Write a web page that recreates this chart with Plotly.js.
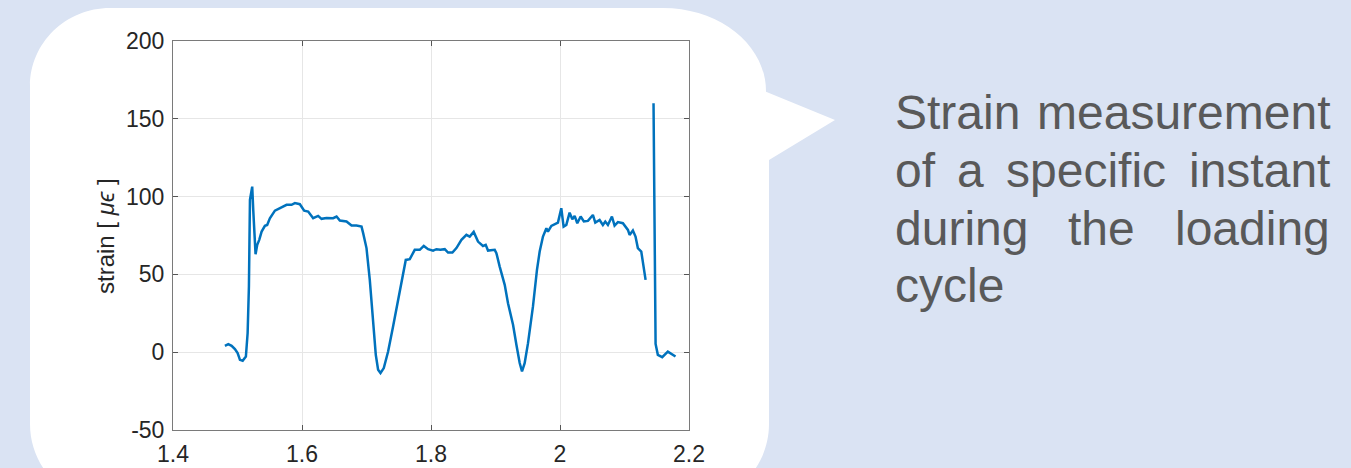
<!DOCTYPE html>
<html>
<head>
<meta charset="utf-8">
<script src="https://cdn.plot.ly/plotly-3.0.1.min.js"></script>
<style>
html,body{margin:0;padding:0;background:#dae3f3;}
#chart{width:1351px;height:468px;}
</style>
</head>
<body>
<div id="chart"></div>
<script>
// ---- data (time in s, strain in microstrain) ----
var time = [
 1.4805, 1.4857, 1.4909, 1.496, 1.5002, 1.5038, 1.508, 1.513, 1.5157, 1.5177,
 1.5193, 1.5228, 1.5244, 1.528, 1.5306, 1.5337, 1.5374, 1.5425, 1.546, 1.5502,
 1.558, 1.5657, 1.5761, 1.5838, 1.589, 1.5967, 1.6034, 1.6096, 1.6173, 1.625,
 1.6303, 1.638, 1.6483, 1.6536, 1.6587, 1.669, 1.6768, 1.6845, 1.6923, 1.6948,
 1.700, 1.7051, 1.7103, 1.7144, 1.718, 1.7217, 1.7268, 1.7335, 1.7412, 1.749,
 1.7552, 1.7609, 1.7671, 1.7748, 1.7826, 1.7888, 1.7955, 1.8032, 1.8084, 1.8146,
 1.8213, 1.8264, 1.8332, 1.8394, 1.8472, 1.8549, 1.86, 1.8662, 1.8729, 1.8806,
 1.8848, 1.8884, 1.8988, 1.9014, 1.9065, 1.9143, 1.9194, 1.9272, 1.9324, 1.9375,
 1.9411, 1.9452, 1.9504, 1.9581, 1.9643, 1.9685, 1.9736, 1.9789, 1.9813, 1.9866,
 1.9968, 2.002, 2.0056, 2.0098, 2.0149, 2.0191, 2.0227, 2.0268, 2.032, 2.037,
 2.0433, 2.051, 2.0547, 2.0614, 2.0665, 2.0702, 2.0743, 2.0805, 2.0846, 2.0898,
 2.0975, 2.1053, 2.1079, 2.113, 2.1171, 2.1207, 2.126, 2.1285, 2.1327,
 null,
 2.145, 2.1482, 2.1517, 2.1585, 2.1672, 2.1725, 2.1791
];
var strain = [
 4.1, 5.2, 4.1, 2, -0.6, -4.9, -5.5, -2.8, 12.3, 42.2,
 97.9, 106.4, 91.5, 63, 69, 72.2, 77.5, 81.2, 81.8, 86.1,
 91, 92.6, 94.7, 94.7, 95.8, 95.1, 91, 90.4, 86.1, 87.6,
 85.7, 86.3, 86.1, 87.2, 84.6, 84, 81.4, 81.4, 80.7, 76.5,
 66.9, 46.5, 20.8, -1.7, -11.3, -13.4, -10.2, 0.4, 16.5, 33.7,
 48.6, 59.3, 59.8, 65.8, 65.8, 68.3, 66.2, 65.3, 66.2, 65.8,
 66.2, 64, 64, 66.9, 72.2, 75.4, 74.3, 77.3, 71.1, 68.3,
 69, 65.3, 65.8, 63.7, 55, 43.3, 31.5, 17.6, 4.8, -7,
 -12.4, -7, 5.8, 29.4, 52.9, 64.7, 74.3, 79.7, 77.5, 81.2,
 83.3, 92.5, 80.7, 81.8, 89.7, 85.5, 87.6, 82.9, 87.2, 84,
 84.4, 88.2, 83.3, 85, 81.8, 84, 81.8, 87.2, 81.4, 83.6,
 82.9, 78.6, 75.4, 78.2, 74.3, 66.9, 64.7, 58.3, 46.5,
 null,
 160, 5.3, -1.7, -3.2, 0.4, -1.1, -2.8
];
var xTickVals = [1.4, 1.6, 1.8, 2.0, 2.2];
var xTickText = ['1.4', '1.6', '1.8', '2', '2.2'];
var yTickVals = [-50, 0, 50, 100, 150, 200];
var yTickText = ['-50', '0', '50', '100', '150', '200'];
var yTitle = 'strain [ <i>\u03bc\u03f5</i> ]';
var calloutLines = [
  ['Strain', 'measurement'],
  ['of', 'a', 'specific', 'instant'],
  ['during', 'the', 'loading'],
  ['cycle']
];

// ---- geometry helpers ----
var W = 1351, H = 468;
var mL = 173, mR = 662, mT = 41, mB = 38;
var pw = W - mL - mR, ph = H - mT - mB;
function px(x) { return ((x - mL) / pw).toFixed(5); }
function py(y) { return ((H - mB - y) / ph).toFixed(5); }
function P(x, y) { return px(x) + ',' + py(y); }

var k = 0.5523;
var L = 30, T = 8, R1 = 766, R2 = 769, B = 504;
var rxTL = 80, ryTL = 78, rxTR = 103, ryTR = 83, rB = 80;
var bubble = 'M' + P(L + rxTL, T) +
  ' L' + P(R1 - rxTR, T) +
  ' C' + P(R1 - rxTR + k * rxTR, T) + ' ' + P(R1, T + ryTR - k * ryTR) + ' ' + P(R1, T + ryTR) +
  ' L' + P(R1, 91.7) +
  ' L' + P(835, 120) +
  ' L' + P(R2, 160) +
  ' L' + P(R2, B - rB) +
  ' C' + P(R2, B - rB + k * rB) + ' ' + P(R2 - rB + k * rB, B) + ' ' + P(R2 - rB, B) +
  ' L' + P(L + rB, B) +
  ' C' + P(L + rB - k * rB, B) + ' ' + P(L, B - rB + k * rB) + ' ' + P(L, B - rB) +
  ' L' + P(L, T + ryTL) +
  ' C' + P(L, T + ryTL - k * ryTL) + ' ' + P(L + rxTL - k * rxTL, T) + ' ' + P(L + rxTL, T) +
  ' Z';

// ---- justified callout text ----
var txtSize = 48;
var txtFont = txtSize + "px 'Liberation Sans', Arial, sans-serif";
var cv = document.createElement('canvas').getContext('2d');
cv.font = txtFont;
var textLeft = 894, textRight = 1329;
var baselines = [129, 187, 245, 303];
var annotations = [];
calloutLines.forEach(function (words, li) {
  var widths = words.map(function (w) { return cv.measureText(w).width; });
  var total = widths.reduce(function (a, b) { return a + b; }, 0);
  var last = li === calloutLines.length - 1;
  var gap = (words.length > 1 && !last) ? (textRight - textLeft - total) / (words.length - 1) : cv.measureText(' ').width;
  var x = textLeft;
  words.forEach(function (w, wi) {
    annotations.push({
      xref: 'paper', yref: 'paper',
      x: Number(px(x)), y: Number(py(baselines[li] - 17)),
      xanchor: 'left', yanchor: 'middle',
      text: w, showarrow: false, borderpad: 0,
      font: { family: "'Liberation Sans', Arial, sans-serif", size: txtSize, color: '#595959' }
    });
    x += widths[wi] + gap;
  });
});
annotations.push({
  xref: 'paper', yref: 'paper',
  x: Number(px(105)), y: Number(py(236)),
  xanchor: 'center', yanchor: 'middle', textangle: -90,
  text: yTitle, showarrow: false, borderpad: 0,
  font: { family: "'Liberation Sans', Arial, sans-serif", size: 24, color: '#262626' }
});

var axisCommon = {
  showline: true, linecolor: '#7a7a7a', linewidth: 1, mirror: 'ticks',
  ticks: 'inside', ticklen: 5, tickwidth: 1, tickcolor: '#555555',
  showgrid: true, gridcolor: '#e6e6e6', gridwidth: 1, zeroline: false,
  tickmode: 'array',
  tickfont: { family: "'Liberation Sans', Arial, sans-serif", size: 23, color: '#262626' }
};

var trace = {
  x: time, y: strain, type: 'scatter', mode: 'lines',
  connectgaps: false,
  line: { color: '#0072bd', width: 2.5 },
  hoverinfo: 'x+y'
};

var layout = {
  width: W, height: H,
  margin: { l: mL, r: mR, t: mT, b: mB, pad: 0 },
  paper_bgcolor: '#dae3f3', plot_bgcolor: '#ffffff',
  showlegend: false,
  xaxis: Object.assign({}, axisCommon, { range: [1.4, 2.2], tickvals: xTickVals, ticktext: xTickText, ticklabelstandoff: 3 }),
  yaxis: Object.assign({}, axisCommon, { range: [-50, 200], tickvals: yTickVals, ticktext: yTickText, ticklabelstandoff: 3 }),
  shapes: [{
    type: 'path', xref: 'paper', yref: 'paper', layer: 'below',
    path: bubble, fillcolor: '#ffffff', line: { width: 0 }
  }],
  annotations: annotations
};

Plotly.newPlot('chart', [trace], layout, { displayModeBar: false, staticPlot: true });
</script>
</body>
</html>
